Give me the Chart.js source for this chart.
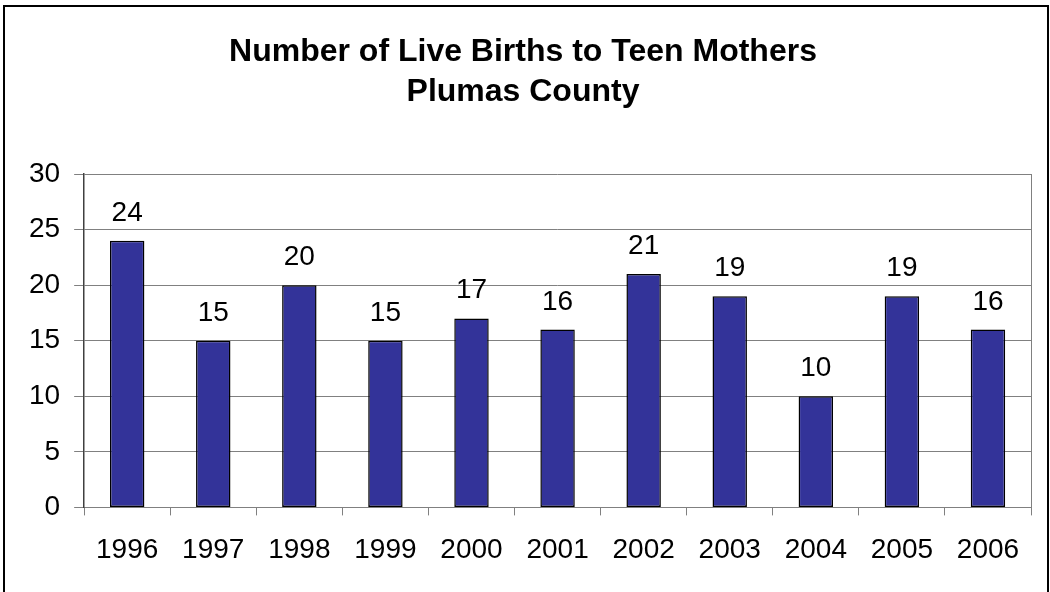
<!DOCTYPE html>
<html>
<head>
<meta charset="utf-8">
<script src="https://cdn.jsdelivr.net/npm/chart.js@4"></script>
<style>
  html, body { margin: 0; padding: 0; background: #fff; }
  #wrap { width: 1050px; height: 592px; position: relative; }
</style>
</head>
<body>
<div id="wrap"><canvas id="births"></canvas></div>
<script>
// ---- data ----
const years = ['1996', '1997', '1998', '1999', '2000', '2001', '2002', '2003', '2004', '2005', '2006'];
const births = [24, 15, 20, 15, 17, 16, 21, 19, 10, 19, 16];
const titleLines = ['Number of Live Births to Teen Mothers', 'Plumas County'];

const FONT = "Arial, 'Liberation Sans', sans-serif";

// value labels above each bar + frame
const extras = {
    id: 'extras',
    beforeDraw(chart) {
        const c = chart.ctx;
        c.save();
        c.strokeStyle = '#000';
        c.lineWidth = 2;
        c.strokeRect(4, 6, 1044, 600);
        c.restore();
    },
    afterDatasetsDraw(chart) {
        const c = chart.ctx;
        const a = chart.chartArea;
        c.save();
        // plot area right edge
        c.strokeStyle = '#808080';
        c.lineWidth = 1;
        c.beginPath();
        c.moveTo(Math.round(a.right) + 0.5, a.top);
        c.lineTo(Math.round(a.right) + 0.5, a.bottom);
        c.stroke();
        // labels
        c.fillStyle = '#000';
        c.font = '28px ' + FONT;
        c.textAlign = 'center';
        c.textBaseline = 'alphabetic';
        chart.getDatasetMeta(0).data.forEach((bar, i) => {
            c.fillText(births[i], bar.x, bar.y - 20);
        });
        c.restore();
    }
};

new Chart(document.getElementById('births'), {
    type: 'bar',
    data: {
        labels: years,
        datasets: [{
            data: births,
            backgroundColor: '#333399',
            borderColor: '#000',
            borderWidth: 1.5,
            borderSkipped: false,
            barPercentage: 0.4,
            categoryPercentage: 1
        }]
    },
    options: {
        responsive: true,
        maintainAspectRatio: false,
        animation: false,
        devicePixelRatio: 1,
        layout: { padding: { left: 15, right: 19, top: 0, bottom: 7 } },
        plugins: {
            legend: { display: false },
            tooltip: { enabled: false },
            title: {
                display: true,
                text: titleLines,
                color: '#000',
                font: { family: FONT, size: 32, weight: 'bold', lineHeight: 1.25 },
                padding: { top: 32, bottom: 62 }
            }
        },
        scales: {
            x: {
                grid: { offset: true, drawOnChartArea: false, tickLength: 8, color: '#808080' },
                border: { color: '#808080', width: 1 },
                ticks: { color: '#000', font: { family: FONT, size: 28 }, padding: 18, maxRotation: 0 }
            },
            y: {
                min: 0,
                max: 30,
                ticks: { stepSize: 5, color: '#000', font: { family: FONT, size: 28 }, padding: 14 },
                grid: { color: '#808080', tickLength: 10 },
                border: { color: '#404040', width: 1.5 }
            }
        }
    },
    plugins: [extras]
});
</script>
</body>
</html>
